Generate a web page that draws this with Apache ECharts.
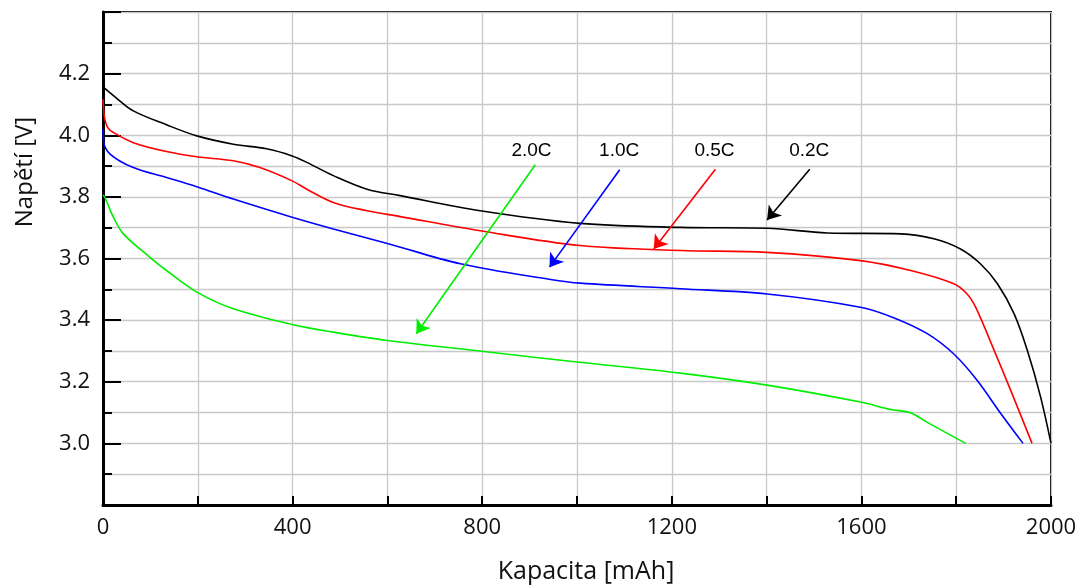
<!DOCTYPE html>
<html>
<head>
<meta charset="utf-8">
<script src="https://cdn.jsdelivr.net/npm/echarts@6/dist/echarts.min.js"></script>
<style>html,body{margin:0;padding:0;background:#fff}#c{width:1087px;height:585px}</style>
</head>
<body>
<div id="c"></div>
<script>
// ---- data (capacity in mAh, voltage in V) ----
const cap02 = [0, 29, 64, 134, 198, 275, 345, 399, 430, 486, 557, 627, 796, 1007, 1218, 1401, 1528, 1683, 1753, 1809, 1851, 1887, 1922, 1950, 1978, 2000];
const volt02 = [4.157, 4.120, 4.079, 4.034, 3.998, 3.971, 3.956, 3.933, 3.912, 3.869, 3.825, 3.804, 3.755, 3.714, 3.701, 3.698, 3.683, 3.680, 3.664, 3.631, 3.583, 3.518, 3.421, 3.302, 3.151, 3.0];

const cap05 = [0, 3, 10, 22, 64, 134, 198, 275, 331, 399, 430, 486, 557, 627, 796, 1007, 1218, 1401, 1598, 1704, 1795, 1823, 1841, 1880, 1915, 1960];
const volt05 = [4.117, 4.060, 4.025, 4.009, 3.976, 3.947, 3.930, 3.917, 3.895, 3.852, 3.825, 3.782, 3.755, 3.736, 3.690, 3.642, 3.626, 3.620, 3.593, 3.561, 3.518, 3.485, 3.442, 3.302, 3.172, 3.0];

const cap10 = [0, 1, 15, 64, 134, 198, 275, 399, 486, 600, 754, 944, 1007, 1218, 1401, 1598, 1668, 1739, 1795, 1844, 1894, 1941];
const volt10 = [4.020, 3.982, 3.939, 3.895, 3.863, 3.833, 3.793, 3.734, 3.696, 3.649, 3.583, 3.532, 3.520, 3.502, 3.485, 3.442, 3.408, 3.356, 3.290, 3.205, 3.097, 3.0];

const cap20 = [0, 4, 22, 43, 99, 134, 198, 275, 399, 486, 600, 799, 1000, 1218, 1401, 1598, 1661, 1704, 1739, 1820];
const volt20 = [3.806, 3.798, 3.734, 3.680, 3.604, 3.561, 3.491, 3.437, 3.386, 3.361, 3.334, 3.299, 3.264, 3.228, 3.189, 3.134, 3.110, 3.099, 3.068, 3.0];

const rateLabels = ['2.0C', '1.0C', '0.5C', '0.2C'];
const labelCap = [904, 1089, 1290, 1490];
const labelVolt = [3.95, 3.95, 3.95, 3.95];
// arrows: start and end points per rate (same order as rateLabels)
const arrowStart = [[912, 3.904], [1090, 3.888], [1292, 3.890], [1491, 3.890]];
const arrowEnd = [[661, 3.356], [942, 3.572], [1162, 3.631], [1401, 3.725]];

const xTitle = 'Kapacita [mAh]';
const yTitle = 'Napětí [V]';

const colors = {'0.2C': '#000000', '0.5C': '#ff0000', '1.0C': '#0000ff', '2.0C': '#00ee00'};
const zip = (a, b) => a.map((v, i) => [v, b[i]]);

const FONT = 'Open Sans';

function curve(name, xs, ys) {
  const idx = rateLabels.indexOf(name);
  return {
    name, type: 'line', data: zip(xs, ys), showSymbol: false, symbol: 'none',
    smooth: 0.35,
    lineStyle: {color: colors[name], width: 1.6}, z: 3,
    markLine: {
      silent: true, animation: false,
      symbol: ['none', 'arrow'], symbolSize: 13,
      label: {show: false},
      emphasis: {disabled: true},
      lineStyle: {color: colors[name], width: 1.6, type: 'solid'},
      data: [[{coord: arrowStart[idx]}, {coord: arrowEnd[idx]}]]
    }
  };
}

const chart = echarts.init(document.getElementById('c'));
chart.setOption({
  animation: false,
  backgroundColor: '#fff',
  grid: {left: 103, right: 36, top: 12, bottom: 80, containLabel: false, outerBoundsMode: 'none',
    show: true, borderColor: '#000', borderWidth: 2, backgroundColor: 'transparent'},
  xAxis: {
    type: 'value', min: 0, max: 2000, interval: 200,
    name: xTitle, nameLocation: 'middle', nameGap: 54,
    nameTextStyle: {fontFamily: FONT, fontSize: 25, color: '#111', padding: [0, 0, 0, 18]},
    axisLine: {show: true, onZero: false, lineStyle: {color: '#000', width: 3}},
    axisTick: {show: true, inside: true, length: 9, lineStyle: {color: '#000', width: 2}},
    axisLabel: {fontFamily: FONT, fontSize: 22, color: '#111', margin: 12,
      formatter: v => (Math.round(v) % 400 === 0 ? String(Math.round(v)) : '')},
    splitLine: {show: true, lineStyle: {color: '#c8c8c8', width: 1.3}}
  },
  yAxis: {
    type: 'value', min: 2.8, max: 4.4, interval: 0.2,
    axisLine: {show: true, onZero: false, lineStyle: {color: '#000', width: 3}},
    axisTick: {show: true, inside: true, length: 18, lineStyle: {color: '#000', width: 2}},
    minorTick: {show: true, splitNumber: 2, length: 9, lineStyle: {color: '#000', width: 2}},
    minorSplitLine: {show: true, lineStyle: {color: '#c8c8c8', width: 1.3}},
    axisLabel: {fontFamily: FONT, fontSize: 22, color: '#111', margin: 13,
      formatter: v => (v < 2.9 || v > 4.3 ? '' : v.toFixed(1))},
    splitLine: {show: true, lineStyle: {color: '#c8c8c8', width: 1.3}}
  },
  graphic: [{
    type: 'text', x: 25, y: 172, rotation: Math.PI / 2,
    style: {text: yTitle, fontFamily: FONT, fontSize: 24, fill: '#111', align: 'center', verticalAlign: 'middle'}
  }],
  series: [
    curve('0.2C', cap02, volt02),
    curve('0.5C', cap05, volt05),
    curve('1.0C', cap10, volt10),
    curve('2.0C', cap20, volt20),
    {
      type: 'scatter', symbol: 'circle', symbolSize: 1, silent: true, z: 5,
      itemStyle: {color: 'rgba(0,0,0,0)'},
      data: rateLabels.map((n, i) => ({name: n, value: [labelCap[i], labelVolt[i]]})),
      label: {show: true, position: 'inside', formatter: '{b}', fontFamily: 'Liberation Sans', fontSize: 19, color: '#000', opacity: 1, textBorderWidth: 0}
    }
  ]
});
</script>
</body>
</html>
